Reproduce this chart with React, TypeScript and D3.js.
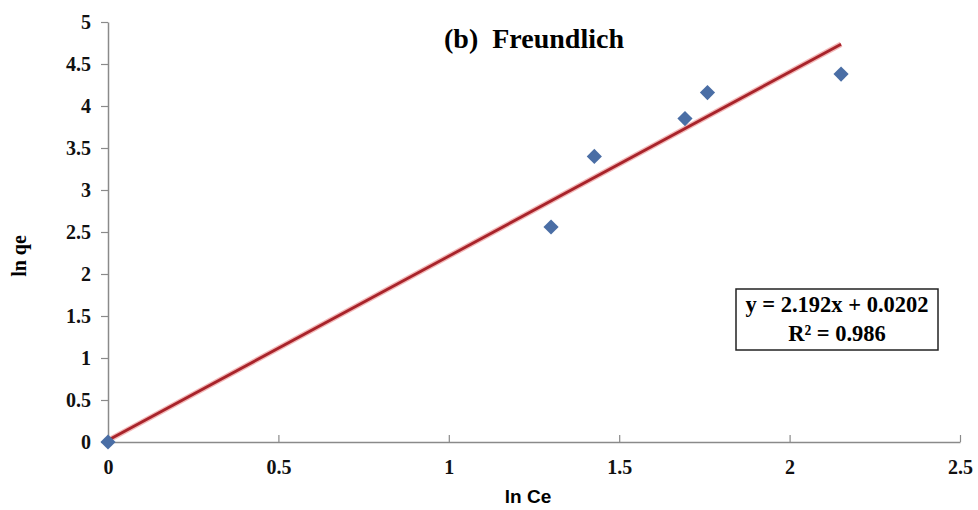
import * as d3 from "d3";
import { useRef, useEffect } from "react";

// observed data: ln Ce vs ln qe
const lnCe = [0, 1.3, 1.427, 1.693, 1.759, 2.151];
const lnQe = [0, 2.56, 3.4, 3.85, 4.16, 4.38];
const xTicks = [0, 0.5, 1, 1.5, 2, 2.5];
const yTicks = [0, 0.5, 1, 1.5, 2, 2.5, 3, 3.5, 4, 4.5, 5];
const slope = 2.192;
const intercept = 0.0202;
const eqLines = ["y = 2.192x + 0.0202", "R² = 0.986"];

const serif = "'Liberation Serif', 'Times New Roman', serif";

export default function App() {
  const width = 978;
  const height = 510;
  const marginLeft = 108;
  const marginRight = 18;
  const marginTop = 22;
  const marginBottom = 68;

  const gx = useRef<SVGGElement>(null);
  const gy = useRef<SVGGElement>(null);

  const x = d3.scaleLinear().domain([0, 2.5]).range([marginLeft, width - marginRight]);
  const y = d3.scaleLinear().domain([0, 5]).range([height - marginBottom, marginTop]);

  const fitX = [0, d3.max(lnCe) as number];
  const fit = d3.line<number>()
    .x(d => x(d))
    .y(d => y(slope * d + intercept));

  useEffect(() => {
    const ax = d3.select(gx.current!)
      .call(d3.axisBottom(x).tickValues(xTicks).tickFormat(d => String(d)).tickSizeInner(-7).tickSizeOuter(0).tickPadding(18));
    ax.select(".domain").attr("stroke", "#8a8a8a").attr("stroke-width", 1.5);
    ax.selectAll(".tick line").attr("stroke", "#8a8a8a").attr("stroke-width", 1.2);
    ax.selectAll("text")
      .style("font-family", serif)
      .style("font-weight", "bold")
      .style("font-size", "20px")
      .attr("fill", "#111");

    const ay = d3.select(gy.current!)
      .call(d3.axisLeft(y).tickValues(yTicks).tickFormat(d => String(d)).tickSizeInner(7).tickSizeOuter(0).tickPadding(10));
    ay.select(".domain").attr("stroke", "#8a8a8a").attr("stroke-width", 1.5);
    ay.selectAll(".tick line").attr("stroke", "#8a8a8a").attr("stroke-width", 1.2);
    ay.selectAll("text")
      .style("font-family", serif)
      .style("font-weight", "bold")
      .style("font-size", "20px")
      .attr("fill", "#111");
  }, []);

  const marker = d3.symbol().type(d3.symbolSquare).size(115)();

  return (
    <svg width={width} height={height} style={{ position: "absolute", left: 0, top: 0, background: "#fff" }}>
      <g ref={gx} transform={`translate(0,${height - marginBottom})`} />
      <g ref={gy} transform={`translate(${marginLeft},0)`} />

      <path d={fit(fitX) ?? ""} fill="none" stroke="#f3b8b8" strokeWidth={5.5} />
      <path d={fit(fitX) ?? ""} fill="none" stroke="#a8232a" strokeWidth={2.8} />

      <g fill="#4a6ea5">
        {lnCe.map((d, i) => (
          <path key={i} d={marker ?? ""} transform={`translate(${x(d)},${y(lnQe[i])}) rotate(45)`} />
        ))}
      </g>

      <text x={534} y={48} textAnchor="middle"
        style={{ fontFamily: serif, fontWeight: "bold", fontSize: "28px", whiteSpace: "pre" }}>
        {"(b)\u00a0 Freundlich"}
      </text>

      <rect x={736} y={289} width={202} height={61} fill="#fff" stroke="#222" strokeWidth={1.5} />
      {eqLines.map((t, i) => (
        <text key={i} x={837} y={312 + i * 29} textAnchor="middle"
          style={{ fontFamily: serif, fontWeight: "bold", fontSize: "22.5px" }}>
          {t}
        </text>
      ))}

      <text x={528} y={503} textAnchor="middle"
        style={{ fontFamily: "'Liberation Sans', Arial, sans-serif", fontWeight: "bold", fontSize: "19px" }}>
        ln Ce
      </text>
      <text transform="translate(26,256) rotate(-90)" textAnchor="middle"
        style={{ fontFamily: serif, fontWeight: "bold", fontSize: "20px" }}>
        ln qe
      </text>
    </svg>
  );
}
